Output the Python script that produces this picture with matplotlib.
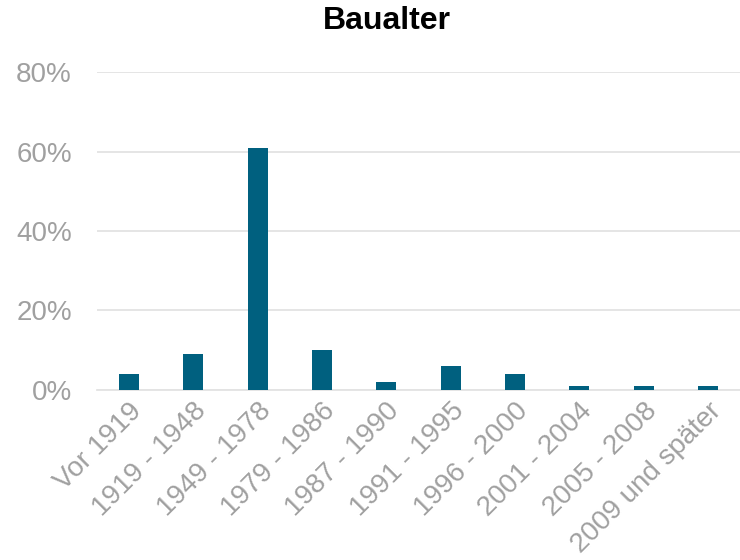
import matplotlib
matplotlib.use("Agg")
import matplotlib.pyplot as plt
from matplotlib.ticker import FuncFormatter

categories = ["Vor 1919", "1919 - 1948", "1949 - 1978", "1979 - 1986", "1987 - 1990",
              "1991 - 1995", "1996 - 2000", "2001 - 2004", "2005 - 2008", "2009 und später"]
shares = [4, 9, 61, 10, 2, 6, 4, 1, 1, 1]
yticks = [0, 20, 40, 60, 80]

plt.rcParams["font.family"] = ["Liberation Sans", "DejaVu Sans"]

fig = plt.figure(figsize=(7.4, 5.6), dpi=100)
ax = fig.add_axes([0.131, 0.304, 0.869, 0.567])

x = range(len(categories))
ax.bar(x, shares, width=0.31, color="#00607F", zorder=3)

ax.set_xlim(-0.5, len(categories) - 0.5)
ax.set_ylim(0, 80)
ax.set_yticks(yticks)
ax.yaxis.set_major_formatter(FuncFormatter(lambda v, p: f"{v:.0f}%"))
ax.grid(axis="y", color="#E3E3E3", lw=1.3, zorder=0)
ax.set_xticks(list(x))
ax.set_xticklabels(categories, rotation=45, ha="right", rotation_mode="anchor")
ax.tick_params(axis="both", length=0, labelsize=20, labelcolor="#A0A0A0")
ax.tick_params(axis="y", pad=18)
ax.tick_params(axis="x", pad=6)
for s in ["top", "right", "left"]:
    ax.spines[s].set_visible(False)
ax.spines["bottom"].set_color("#E3E3E3")
ax.spines["bottom"].set_linewidth(1.3)

fig.text(0.523, 0.963, "Baualter", ha="center", va="center", fontsize=23, fontweight="bold")

fig.savefig("out.png", dpi=100)
